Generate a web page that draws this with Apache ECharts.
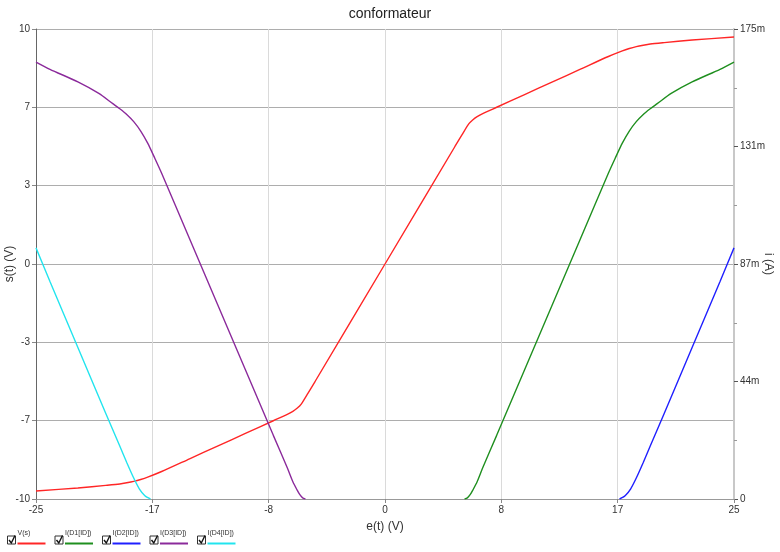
<!DOCTYPE html>
<html><head><meta charset="utf-8">
<script src="https://cdn.jsdelivr.net/npm/echarts@6/dist/echarts.min.js"></script>
<style>html,body{margin:0;padding:0;background:#fff}#c{width:780px;height:552px}</style>
</head><body><div id="c"></div>
<script>
// ---- data ----
const chartTitle = 'conformateur';
const xTickLabels = ['-25','-17','-8','0','8','17','25'];
const yLeftTickLabels = ['-10','-7','-3','0','3','7','10'];
const yRightTickLabels = ['0','44m','87m','131m','175m'];
const seriesNames = ['V(s)','I(D1[ID])','I(D2[ID])','I(D3[ID])','I(D4[ID])'];

// V(s) in volts vs e(t)
const eRed = [-25,-22,-20,-19,-18.5,-18,-17.5,-17,-16,-14,-12,-10,-8,-7,-6.6,-6.3,-6,-5.5,-5,0,5,5.5,6,6.3,6.6,7,8,10,12,14,16,17,17.5,18,18.5,19,20,22,25];
const sRed = [-9.66,-9.53,-9.42,-9.36,-9.31,-9.25,-9.17,-9.07,-8.83,-8.29,-7.75,-7.21,-6.67,-6.40,-6.27,-6.14,-5.96,-5.48,-4.99,0,4.99,5.48,5.96,6.14,6.27,6.40,6.67,7.21,7.75,8.29,8.83,9.07,9.17,9.25,9.31,9.36,9.42,9.53,9.66];
// currents in mA
const eGreen = [5.7,5.9,6.1,6.3,6.6,7,8,10,12,14,16,16.5,17,17.5,18,18.5,19,19.5,20.5,22,24,25];
const iGreen = [0,0.4,1.6,3.4,6.4,11.6,23.7,48.1,72.5,96.9,121.3,127,132.5,137,140.5,143.2,145.3,147.2,151,155.3,160,162.7];
const eBlue = [16.8,17.2,17.6,18,18.5,19,20,22,24,25];
const iBlue = [0,1.2,3.8,7.8,13.6,19.7,31.8,56.4,81,93.5];
const ePurple = [-25,-24,-22,-20.5,-19.5,-19,-18.5,-18,-17.5,-17,-16.5,-16,-14,-12,-10,-8,-7,-6.6,-6.3,-6.1,-5.9,-5.7];
const iPurple = [162.7,160,155.3,151,147.2,145.3,143.2,140.5,137,132.5,127,121.3,96.9,72.5,48.1,23.7,11.6,6.4,3.4,1.6,0.4,0];
const eCyan = [-25,-24,-22,-20,-19,-18.5,-18,-17.6,-17.2,-16.8];
const iCyan = [93.5,81,56.4,31.8,19.7,13.6,7.8,3.8,1.2,0];

const colors = ['#ff2626','#1f8f1f','#1f1fff','#8b2a9b','#22e4ee'];

function pairs(xs, ys){ return xs.map((x,i)=>[x, ys[i]]); }
const seriesData = [pairs(eRed,sRed), pairs(eGreen,iGreen), pairs(eBlue,iBlue), pairs(ePurple,iPurple), pairs(eCyan,iCyan)];

const FONT = 'Liberation Sans';
const chart = echarts.init(document.getElementById('c'), null, {renderer:'canvas'});

// legend drawn as checkbox + small label + coloured line
const legendGraphics = [];
seriesNames.forEach((n,i)=>{
  const x0 = 7.5 + 47.5*i;
  legendGraphics.push({type:'rect', shape:{x:x0, y:536, width:8, height:8}, style:{fill:'#fff',stroke:'#333',lineWidth:1}, silent:true});
  legendGraphics.push({type:'polyline', shape:{points:[[x0+1.5,540],[x0+3.8,543],[x0+7.5,535.5]]}, style:{stroke:'#111',lineWidth:1.4,fill:null}, silent:true});
  legendGraphics.push({type:'text', x:x0+10, y:530, style:{text:n, font:'7px "'+FONT+'"', fill:'#333'}, silent:true});
  legendGraphics.push({type:'line', shape:{x1:x0+10, y1:543.5, x2:x0+38, y2:543.5}, style:{stroke:colors[i], lineWidth:2}, silent:true});
});

const series = seriesData.map((d,i)=>({
  name: seriesNames[i], type:'line', data:d, yAxisIndex: i===0?0:1,
  showSymbol:false, symbol:'none', smooth:0.25,
  lineStyle:{color:colors[i], width:1.4}, itemStyle:{color:colors[i]}, z: 3+i
}));

chart.setOption({
  animation:false,
  backgroundColor:'#fff',
  textStyle:{fontFamily:FONT},
  title:{text:chartTitle, left:'center', top:2, textStyle:{fontFamily:FONT, fontSize:14, fontWeight:'normal', color:'#222'}},
  grid:{left:36, right:46, top:29, bottom:53, containLabel:false, outerBoundsMode:'none'},
  xAxis:{
    type:'value', min:-25, max:25, interval:25/3,
    name:'e(t) (V)', nameLocation:'middle', nameGap:22, nameMoveOverlap:false,
    nameTextStyle:{fontFamily:FONT, fontSize:12, color:'#333'},
    axisLine:{show:true, onZero:false, lineStyle:{color:'#999', width:1}},
    axisTick:{show:true, length:4, lineStyle:{color:'#888'}},
    axisLabel:{fontFamily:FONT, fontSize:10, color:'#333', margin:6,
      formatter:(v)=>{const k=Math.round((v+25)/(25/3)); return xTickLabels[k]!==undefined?xTickLabels[k]:'';}},
    splitLine:{show:true, lineStyle:{color:'#dadada', width:1}}
  },
  yAxis:[{
    type:'value', min:-10, max:10, interval:10/3, position:'left',
    name:'s(t) (V)', nameLocation:'middle', nameGap:20, nameMoveOverlap:false,
    nameTextStyle:{fontFamily:FONT, fontSize:12, color:'#333'},
    axisLine:{show:true, onZero:false, lineStyle:{color:'#666', width:1}},
    axisTick:{show:true, length:4, lineStyle:{color:'#888'}},
    axisLabel:{fontFamily:FONT, fontSize:10, color:'#333', margin:6,
      formatter:(v)=>{const k=Math.round((v+10)/(10/3)); return yLeftTickLabels[k]!==undefined?yLeftTickLabels[k]:'';}},
    splitLine:{show:true, lineStyle:{color:'#adadad', width:1}}
  },{
    type:'value', min:0, max:175, interval:43.75, position:'right',
    name:'i (A)', nameLocation:'middle', nameGap:28, nameRotate:-90, nameMoveOverlap:false,
    nameTextStyle:{fontFamily:FONT, fontSize:12, color:'#333'},
    axisLine:{show:true, onZero:false, lineStyle:{color:'#c8c8c8', width:2}},
    axisTick:{show:true, length:4, lineStyle:{color:'#555'}},
    minorTick:{show:true, splitNumber:2, length:3, lineStyle:{color:'#999'}},
    axisLabel:{fontFamily:FONT, fontSize:10, color:'#333', margin:6,
      formatter:(v)=>{const k=Math.round(v/43.75); return yRightTickLabels[k]!==undefined?yRightTickLabels[k]:'';}},
    splitLine:{show:false}
  }],
  series: series,
  graphic: legendGraphics
});
</script></body></html>
